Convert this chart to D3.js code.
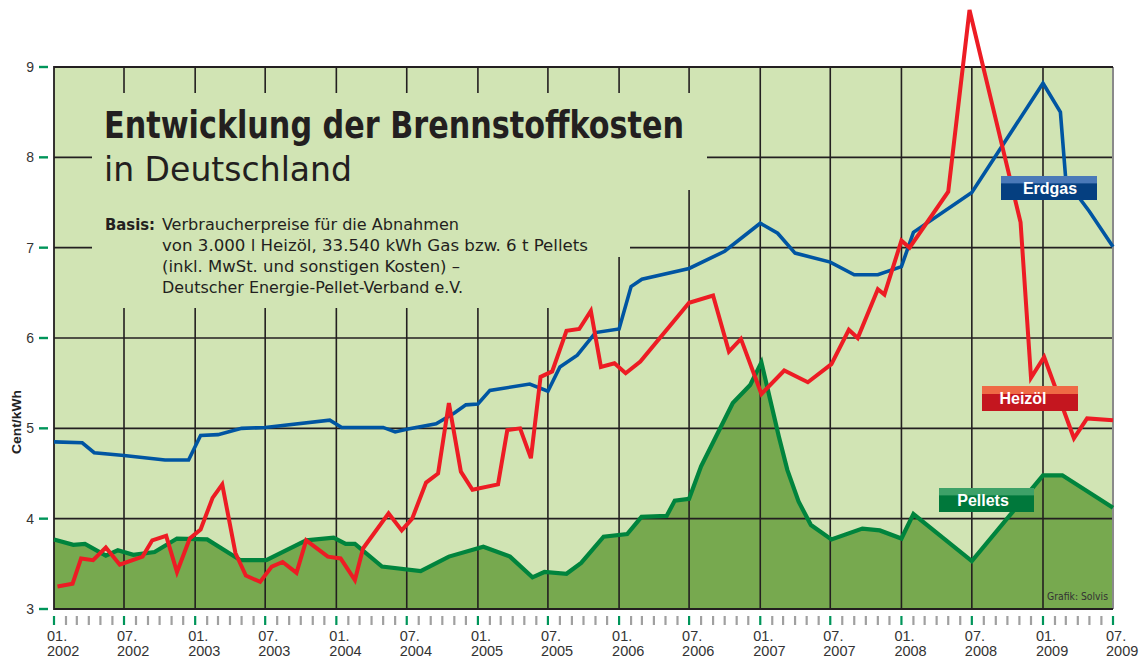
<!DOCTYPE html>
<html>
  <head>
    <meta charset="utf-8">
    <title>Entwicklung der Brennstoffkosten</title>
    <script src="https://d3js.org/d3.v7.min.js"></script>
    <style>
      body {
        margin: 0;
        background: #ffffff;
      }
      svg {
        display: block;
        font-family: "Liberation Sans", Arial, sans-serif;
      }
      .narrow {
        font-family: "Liberation Sans Narrow", "DejaVu Sans Condensed", "Liberation Sans", sans-serif;
      }
    </style>
    <script>
      // Cent/kWh
      var gasDates = ["2002-01-01", "2002-03-15", "2002-04-15", "2002-07-01", "2002-10-15", "2002-12-15",
        "2003-01-15", "2003-03-01", "2003-05-01", "2003-07-01", "2003-12-15", "2004-01-15", "2004-05-01",
        "2004-06-01", "2004-07-01", "2004-09-15", "2004-11-01", "2004-12-01", "2005-01-01", "2005-02-01",
        "2005-05-15", "2005-07-01", "2005-08-01", "2005-09-15", "2005-11-01", "2006-01-01", "2006-02-01",
        "2006-03-01", "2006-07-01", "2006-10-01", "2007-01-01", "2007-02-15", "2007-04-01", "2007-07-01",
        "2007-09-01", "2007-11-01", "2008-01-01", "2008-02-01", "2008-07-01", "2009-01-01", "2009-02-15",
        "2009-03-01", "2009-05-01", "2009-07-01"];
      var gasValues = [4.85, 4.84, 4.73, 4.70, 4.65, 4.65,
        4.92, 4.93, 5.00, 5.01, 5.09, 5.01, 5.01,
        4.96, 4.99, 5.05, 5.17, 5.26, 5.27, 5.42,
        5.49, 5.41, 5.68, 5.81, 6.06, 6.10, 6.57,
        6.65, 6.77, 6.96, 7.27, 7.16, 6.94, 6.84,
        6.70, 6.70, 6.79, 7.17, 7.61, 8.82, 8.50,
        7.75, 7.40, 7.01];

      var oilDates = ["2002-01-10", "2002-02-18", "2002-03-12", "2002-04-12", "2002-05-15", "2002-06-20",
        "2002-08-18", "2002-09-12", "2002-10-18", "2002-11-15", "2002-12-18", "2003-01-15", "2003-02-15",
        "2003-03-12", "2003-04-15", "2003-05-12", "2003-06-18", "2003-07-18", "2003-08-15", "2003-09-20",
        "2003-10-15", "2003-12-10", "2004-01-12", "2004-02-18", "2004-03-10", "2004-05-15", "2004-06-18",
        "2004-07-15", "2004-08-20", "2004-09-20", "2004-10-18", "2004-11-18", "2004-12-18", "2005-02-22",
        "2005-03-18", "2005-04-20", "2005-05-18", "2005-06-12", "2005-07-12", "2005-08-18", "2005-09-20",
        "2005-10-20", "2005-11-15", "2005-12-20", "2006-01-18", "2006-02-25", "2006-07-01", "2006-09-01",
        "2006-10-12", "2006-11-12", "2007-01-04", "2007-03-04", "2007-05-04", "2007-07-04", "2007-08-18",
        "2007-09-10", "2007-11-01", "2007-11-18", "2008-01-01", "2008-01-22", "2008-05-01", "2008-06-25",
        "2008-11-04", "2008-12-01", "2009-01-04", "2009-03-22", "2009-04-25", "2009-07-01"];
      var oilValues = [3.25, 3.28, 3.56, 3.54, 3.68, 3.49,
        3.58, 3.76, 3.81, 3.41, 3.78, 3.88, 4.23,
        4.38, 3.62, 3.37, 3.30, 3.47, 3.52, 3.40,
        3.76, 3.58, 3.56, 3.32, 3.67, 4.06, 3.87,
        4.00, 4.40, 4.50, 5.28, 4.52, 4.32, 4.38,
        4.98, 5.00, 4.67, 5.57, 5.63, 6.08, 6.10,
        6.30, 5.68, 5.72, 5.61, 5.74, 6.39, 6.47,
        5.85, 5.99, 5.38, 5.64, 5.51, 5.71, 6.09,
        6.00, 6.54, 6.48, 7.08, 7.00, 7.62, 9.63,
        7.28, 5.56, 5.79, 4.89, 5.11, 5.09];

      var pelletDates = ["2002-01-01", "2002-02-20", "2002-03-22", "2002-05-15", "2002-06-15", "2002-07-25",
        "2002-09-18", "2002-11-15", "2003-02-01", "2003-04-28", "2003-07-04", "2003-10-15", "2003-12-25",
        "2004-01-25", "2004-02-18", "2004-04-28", "2004-08-06", "2004-10-18", "2005-01-15", "2005-03-25",
        "2005-05-22", "2005-06-22", "2005-08-18", "2005-09-25", "2005-11-22", "2006-01-22", "2006-02-28",
        "2006-05-04", "2006-05-25", "2006-07-01", "2006-08-01", "2006-10-22", "2006-12-06", "2007-01-04",
        "2007-02-18", "2007-03-12", "2007-04-10", "2007-05-12", "2007-07-04", "2007-09-22", "2007-11-06",
        "2008-01-01", "2008-02-01", "2008-07-01", "2009-01-01", "2009-02-20", "2009-07-01"];
      var pelletValues = [3.77, 3.71, 3.72, 3.59, 3.65, 3.60,
        3.63, 3.78, 3.77, 3.54, 3.54, 3.76, 3.79,
        3.72, 3.72, 3.47, 3.42, 3.58, 3.69, 3.58,
        3.35, 3.41, 3.39, 3.51, 3.80, 3.83, 4.02,
        4.03, 4.20, 4.22, 4.58, 5.28, 5.48, 5.73,
        4.91, 4.54, 4.19, 3.93, 3.77, 3.89, 3.87,
        3.78, 4.05, 3.53, 4.48, 4.48, 4.12];

      var yTicks = [3, 4, 5, 6, 7, 8, 9];
      var xStart = "2002-01-01";
      var xEnd = "2009-07-01";

      var basisLines = [
        "Verbraucherpreise für die Abnahmen",
        "von 3.000 l Heizöl, 33.540 kWh Gas bzw. 6 t Pellets",
        "(inkl. MwSt. und sonstigen Kosten) –",
        "Deutscher Energie-Pellet-Verband e.V."
      ];

      var bgColor = "#d1e4b4";
      var parse = d3.timeParse("%Y-%m-%d");
      var x, y;

      function series(dates, values) {
        return dates.map(function(d, i) { return [parse(d), values[i]]; });
      }

      document.addEventListener("DOMContentLoaded", function() {
        var svg = d3.select("svg");
        x = d3.scaleTime().domain([parse(xStart), parse(xEnd)]).range([54, 1113]);
        y = d3.scaleLinear().domain([3, 9]).range([609, 67]);

        var gas = series(gasDates, gasValues);
        var oil = series(oilDates, oilValues);
        var pellets = series(pelletDates, pelletValues);

        // plot background
        svg.append("rect")
          .attr("x", x.range()[0]).attr("y", y(9))
          .attr("width", x.range()[1] - x.range()[0]).attr("height", y(3) - y(9))
          .attr("fill", bgColor);

        // pellets area
        var area = d3.area()
          .x(function(d) { return x(d[0]); })
          .y0(y(3))
          .y1(function(d) { return y(d[1]); });
        svg.append("path").datum(pellets)
          .attr("d", area)
          .attr("fill", "#77a94f");

        // grid
        var grid = svg.append("g").attr("stroke", "#231f20").attr("stroke-width", 1.6);
        grid.selectAll("line.h")
          .data([4, 5, 6, 7, 8])
          .enter().append("line")
            .attr("x1", x.range()[0]).attr("x2", x.range()[1])
            .attr("y1", function(d) { return y(d); })
            .attr("y2", function(d) { return y(d); });
        var halfYears = d3.timeMonth.every(6).range(d3.timeDay.offset(parse(xStart), 1), parse(xEnd));
        grid.selectAll("line.v")
          .data(halfYears)
          .enter().append("line")
            .attr("x1", function(d) { return x(d); })
            .attr("x2", function(d) { return x(d); })
            .attr("y1", y(9)).attr("y2", y(3));

        // title panel hides the grid behind the text
        svg.append("polygon")
          .attr("points", [[92, 93], [707, 93], [707, 190], [630, 190], [630, 257], [600, 257], [600, 308], [92, 308]].join(" "))
          .attr("fill", bgColor);

        // frame
        svg.append("line")
          .attr("x1", x.range()[1]).attr("x2", x.range()[1])
          .attr("y1", y(9)).attr("y2", y(3))
          .attr("stroke", "#8a8a8a").attr("stroke-width", 2);
        svg.append("path")
          .attr("d", "M" + x.range()[1] + "," + y(9) + "H" + x.range()[0] + "V" + y(3) + "H" + x.range()[1])
          .attr("fill", "none").attr("stroke", "#231f20").attr("stroke-width", 1.8);

        // lines
        var line = d3.line()
          .x(function(d) { return x(d[0]); })
          .y(function(d) { return y(d[1]); });
        svg.append("path").datum(pellets)
          .attr("d", line).attr("fill", "none")
          .attr("stroke", "#00843d").attr("stroke-width", 4.2);
        svg.append("path").datum(gas)
          .attr("d", line).attr("fill", "none")
          .attr("stroke", "#0055a2").attr("stroke-width", 3.6);
        svg.append("path").datum(oil)
          .attr("d", line).attr("fill", "none")
          .attr("stroke", "#ed1c24").attr("stroke-width", 4);

        // y axis
        var yAxis = svg.append("g");
        yAxis.selectAll("line")
          .data(yTicks)
          .enter().append("line")
            .attr("x1", 39).attr("x2", 48)
            .attr("y1", function(d) { return y(d); })
            .attr("y2", function(d) { return y(d); })
            .attr("stroke", "#00955a").attr("stroke-width", 2.4);
        yAxis.selectAll("text")
          .data(yTicks)
          .enter().append("text")
            .attr("x", 34)
            .attr("y", function(d) { return y(d); })
            .attr("dy", "0.36em")
            .attr("text-anchor", "end")
            .attr("font-size", 14)
            .attr("fill", "#333333")
            .text(function(d) { return d; });
        svg.append("text")
          .attr("transform", "translate(21,422) rotate(-90)")
          .attr("text-anchor", "middle")
          .attr("font-size", 12).attr("font-weight", "bold")
          .attr("fill", "#222222")
          .attr("textLength", 64).attr("lengthAdjust", "spacingAndGlyphs")
          .text("Cent/kWh");

        // x axis: one mark per month
        var months = d3.timeMonth.range(parse(xStart), d3.timeDay.offset(parse(xEnd), 1));
        svg.append("g").selectAll("line")
          .data(months)
          .enter().append("line")
            .attr("x1", function(d) { return x(d); })
            .attr("x2", function(d) { return x(d); })
            .attr("y1", 616).attr("y2", 625)
            .attr("stroke", function(d) { return d.getMonth() % 6 == 0 ? "#00955a" : "#a0a0a0"; })
            .attr("stroke-width", 2.2);
        var labelDates = d3.timeMonth.every(6).range(parse(xStart), d3.timeDay.offset(parse(xEnd), 1));
        var labels = svg.append("g").selectAll("text")
          .data(labelDates)
          .enter().append("text")
            .attr("x", function(d) { return x(d) - 7; })
            .attr("font-size", 14.5)
            .attr("fill", "#333333");
        labels.append("tspan")
          .attr("y", 641)
          .text(d3.timeFormat("%m."));
        labels.append("tspan")
          .attr("x", function(d) { return x(d) - 7; })
          .attr("y", 656)
          .text(d3.timeFormat("%Y"));

        // title block
        svg.append("text")
          .attr("class", "narrow")
          .attr("x", 104).attr("y", 138)
          .attr("font-size", 37).attr("font-weight", "bold")
          .attr("fill", "#231f20")
          .attr("textLength", 580).attr("lengthAdjust", "spacingAndGlyphs")
          .text("Entwicklung der Brennstoffkosten");
        svg.append("text")
          .attr("class", "narrow")
          .attr("x", 104).attr("y", 181)
          .attr("font-size", 34)
          .attr("fill", "#231f20")
          .attr("textLength", 248).attr("lengthAdjust", "spacingAndGlyphs")
          .text("in Deutschland");
        svg.append("text")
          .attr("class", "narrow")
          .attr("x", 105).attr("y", 230)
          .attr("font-size", 16.5).attr("font-weight", "bold")
          .attr("fill", "#231f20")
          .text("Basis:");
        var basisWidths = [297, 426, 298, 301];
        svg.append("g").selectAll("text")
          .data(basisLines)
          .enter().append("text")
            .attr("class", "narrow")
            .attr("x", 162)
            .attr("y", function(d, i) { return 230 + i * 21; })
            .attr("font-size", 16.5)
            .attr("fill", "#231f20")
            .attr("textLength", function(d, i) { return basisWidths[i]; })
            .attr("lengthAdjust", "spacingAndGlyphs")
            .text(function(d) { return d; });

        // legend tags
        var defs = svg.append("defs");
        var tags = [
          { name: "Erdgas", x: 1001, y: 176, w: 96, h: 24, tx: 1050, top: "#4a79b8", bottom: "#053f80" },
          { name: "Heizöl", x: 982, y: 386, w: 96, h: 25, tx: 1023, top: "#ef6a45", bottom: "#c4161f" },
          { name: "Pellets", x: 939, y: 488, w: 95, h: 24, tx: 983, top: "#3ea168", bottom: "#00783b" }
        ];
        tags.forEach(function(t, i) {
          var g = defs.append("linearGradient")
            .attr("id", "tag" + i)
            .attr("x1", 0).attr("y1", 0).attr("x2", 0).attr("y2", 1);
          g.append("stop").attr("offset", "0").attr("stop-color", t.top);
          g.append("stop").attr("offset", "0.3").attr("stop-color", t.top);
          g.append("stop").attr("offset", "0.32").attr("stop-color", t.bottom);
          g.append("stop").attr("offset", "1").attr("stop-color", t.bottom);
          svg.append("rect")
            .attr("x", t.x).attr("y", t.y)
            .attr("width", t.w).attr("height", t.h)
            .attr("fill", "url(#tag" + i + ")");
          svg.append("text")
            .attr("x", t.tx).attr("y", t.y + t.h / 2)
            .attr("dy", "0.36em")
            .attr("text-anchor", "middle")
            .attr("font-size", 16).attr("font-weight", "bold")
            .attr("fill", "#ffffff")
            .text(t.name);
        });

        svg.append("text")
          .attr("class", "narrow")
          .attr("x", 1047).attr("y", 600)
          .attr("font-size", 11)
          .attr("fill", "#333333")
          .attr("textLength", 61).attr("lengthAdjust", "spacingAndGlyphs")
          .text("Grafik: Solvis");
      });
    </script>
  </head>
  <body>
    <svg width="1147" height="659"></svg>
  </body>
</html>
